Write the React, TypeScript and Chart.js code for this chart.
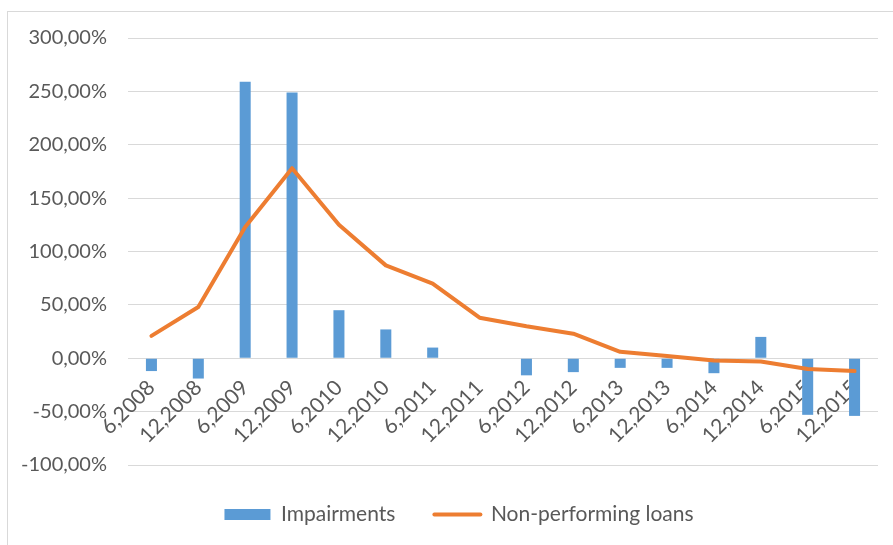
import React, { useEffect, useRef } from "react";
import { Chart, registerables } from "chart.js";

Chart.register(...registerables);

const categories = ["6,2008", "12,2008", "6,2009", "12,2009", "6,2010", "12,2010", "6,2011", "12,2011", "6,2012", "12,2012", "6,2013", "12,2013", "6,2014", "12,2014", "6,2015", "12,2015"];
const impairments = [-12, -19, 259, 249, 45, 27, 10, 0, -16, -13, -9, -9, -14, 20, -53, -54];
const nonPerformingLoans = [21, 48, 123, 178, 125, 87, 70, 38, 30, 23, 6, 2, -2, -3, -10, -12];
const seriesNames = ["Impairments", "Non-performing loans"];
const yMin = -100;
const yMax = 300;
const yStep = 50;

const BLUE = "#5B9BD5";
const ORANGE = "#ED7D31";
const TEXT = "#595959";
const GRID = "#D9D9D9";
const FONT = "Lato";

const legendShift = {
  id: "legendShift",
  afterLayout(chart: any) {
    if (chart.legend) {
      chart.legend.left += 10;
      chart.legend.right += 10;
    }
  },
};

export default function App() {
  const ref = useRef<HTMLCanvasElement>(null);
  useEffect(() => {
    if (!ref.current) return;
    const chart = new Chart(ref.current, {
      type: "bar",
      data: {
        labels: categories,
        datasets: [
          {
            type: "bar",
            label: seriesNames[0],
            data: impairments,
            backgroundColor: BLUE,
            borderWidth: 0,
            barPercentage: 0.235,
            categoryPercentage: 1,
            order: 1,
          },
          {
            type: "line",
            label: seriesNames[1],
            data: nonPerformingLoans,
            borderColor: ORANGE,
            backgroundColor: ORANGE,
            borderWidth: 4,
            borderJoinStyle: "round",
            borderCapStyle: "round",
            pointRadius: 0,
            tension: 0,
            order: 0,
          },
        ],
      },
      plugins: [legendShift],
      options: {
        animation: false,
        responsive: false,
        maintainAspectRatio: false,
        layout: { padding: { left: 12, right: 15, top: 26, bottom: 0 } },
        plugins: {
          tooltip: { enabled: false },
          legend: {
            position: "bottom",
            labels: {
              color: TEXT,
              font: { family: FONT, size: 21 },
              usePointStyle: true,
              pointStyleWidth: 46,
              boxHeight: 11,
              padding: 39,
              generateLabels: (c: any) =>
                c.data.datasets.map((ds: any, i: number) => ({
                  text: ds.label,
                  datasetIndex: i,
                  fillStyle: i === 0 ? BLUE : ORANGE,
                  strokeStyle: i === 0 ? BLUE : ORANGE,
                  lineWidth: i === 0 ? 0 : 4,
                  lineCap: "round",
                  pointStyle: i === 0 ? "rect" : "line",
                  fontColor: TEXT,
                  hidden: false,
                })),
            },
          },
        },
        scales: {
          x: {
            position: { y: 0 } as any,
            grid: { display: false, drawTicks: false },
            border: { display: false },
            ticks: {
              color: TEXT,
              font: { family: FONT, size: 21 },
              minRotation: 45,
              maxRotation: 45,
              autoSkip: false,
              padding: 17,
            },
          },
          y: {
            min: yMin,
            max: yMax,
            afterFit: (s: any) => {
              s.width = 108;
              s.paddingTop = 0;
              s.paddingBottom = 0;
            },
            grid: { color: GRID, lineWidth: 1, drawTicks: false },
            border: { display: false },
            ticks: {
              stepSize: yStep,
              color: TEXT,
              font: { family: FONT, size: 20 },
              padding: 21,
              callback: (v: any) => Number(v).toFixed(2).replace(".", ",") + "%",
            },
          },
        },
      },
    });
    return () => chart.destroy();
  }, []);

  return (
    <div style={{ position: "fixed", left: 0, top: 0, width: 893, height: 545, overflow: "hidden", background: "#fff" }}>
      <div style={{ position: "absolute", left: 7, top: 11, right: 0, bottom: 0, borderTop: "1px solid #D9D9D9", borderLeft: "1px solid #D9D9D9" }}>
        <canvas ref={ref} width={885} height={523} style={{ display: "block", width: 885, height: 523 }} />
      </div>
    </div>
  );
}
